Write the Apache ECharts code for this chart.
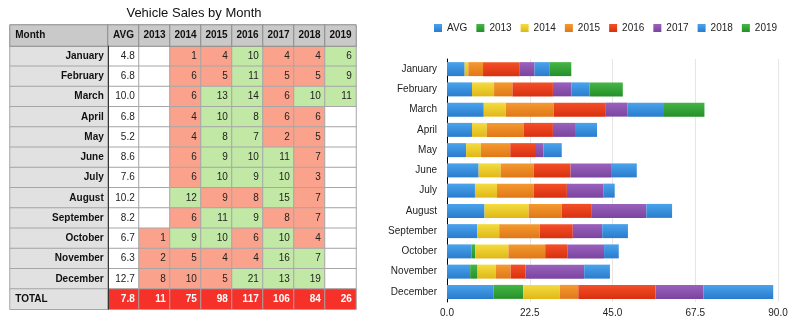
<!DOCTYPE html>
<html><head><meta charset="utf-8">
<script src="https://cdn.jsdelivr.net/npm/echarts@6/dist/echarts.min.js"></script>
<style>html,body{margin:0;padding:0;background:#fff}#c{width:796px;height:323px}</style>
</head><body><div id="c"></div>
<script>
const title = 'Vehicle Sales by Month';
const months = ['January','February','March','April','May','June','July','August','September','October','November','December'];
const seriesNames = ['AVG','2013','2014','2015','2016','2017','2018','2019'];
const avg   = [4.8, 6.8, 10.0, 6.8, 5.2, 8.6, 7.6, 10.2, 8.2, 6.7, 6.3, 12.7];
const s2013 = [null,null,null,null,null,null,null,null,null,1,2,8];
const s2014 = [1,6,6,4,4,6,6,12,6,9,5,10];
const s2015 = [4,5,13,10,8,9,10,9,11,10,4,5];
const s2016 = [10,11,14,8,7,10,9,8,9,6,4,21];
const s2017 = [4,5,6,6,2,11,10,15,8,10,16,13];
const s2018 = [4,5,10,6,5,7,3,7,7,4,7,19];
const s2019 = [6,9,11,null,null,null,null,null,null,null,null,null];
const totals = ['7.8','11','75','98','117','106','84','26'];
const xTicks = [0, 22.5, 45, 67.5, 90];

const cols = [avg, s2013, s2014, s2015, s2016, s2017, s2018, s2019];
const FONT = '"Liberation Sans", Arial, Helvetica, sans-serif';
const HEAD = '#c9c9c9', LBG = '#e1e1e1', GREEN = '#c2e8a6', SALMON = '#fba28c', RED = '#f5312a', BORDER = '#a6a6a6';

// ---- table data ----
const headLabel = [{value:[0,0,0], txt:'Month', itemStyle:{color:HEAD}, label:{position:'insideLeft', distance:6}}];
const headData = seriesNames.map((n,c)=>({value:[c,0,0], txt:n, itemStyle:{color:HEAD}, label:{position:'inside'}}));
const bodyLabel = months.concat(['TOTAL']).map((m,r)=>({
  value:[0,r,0], txt:m, itemStyle:{color:LBG},
  label: r===12 ? {position:'insideLeft', distance:6} : {position:'insideRight', distance:5}
}));
const bodyData = [];
cols.forEach((arr,c)=>{
  arr.forEach((v,r)=>{
    const txt = v==null ? '' : (c===0 ? v.toFixed(1) : String(v));
    const color = (c===0 || v==null) ? '#ffffff' : (v >= avg[r] ? GREEN : SALMON);
    bodyData.push({value:[c,r,v==null?0:v], txt, itemStyle:{color}, label:{position:'insideRight', distance:5, color:'#222', fontWeight:'normal'}});
  });
  bodyData.push({value:[c,12,0], txt:totals[c], itemStyle:{color:RED}, label:{position:'insideRight', distance:5, color:'#fff', fontWeight:'bold'}});
});

const hidCat = (data, grid, extra) => Object.assign({type:'category', data, gridIndex:grid, show:false}, extra||{});

// ---- bar chart ----
const barColors = [
  ['#4aa3ec','#2a7ccc'], ['#46b646','#25902a'], ['#f4dc40','#e0b818'], ['#f49a30','#e07818'],
  ['#f45028','#d83010'], ['#9a62bc','#7a44a0'], ['#4aa3ec','#2a7ccc'], ['#46b646','#25902a']
];
const barSeries = cols.map((arr,i)=>({
  name: seriesNames[i], type:'bar', stack:'total', xAxisIndex:4, yAxisIndex:4,
  barWidth:14,
  itemStyle:{color: new echarts.graphic.LinearGradient(0,0,0,1,[{offset:0,color:barColors[i][0]},{offset:1,color:barColors[i][1]}])},
  data: arr.map(v=> v==null ? 0 : v)
}));

const labelBase = {show:true, fontFamily:FONT, fontSize:10, color:'#111', formatter:p=>p.data.txt};
const cellStyle = {borderColor:BORDER, borderWidth:1};

const option = {
  animation:false,
  title:{text:title, left:189, top:2, textAlign:'center', textStyle:{fontFamily:FONT, fontSize:13, fontWeight:'normal', color:'#111'}},
  legend:{
    data: seriesNames, left:429, top:18, itemWidth:8, itemHeight:8, itemGap:9,
    icon:'rect', textStyle:{fontFamily:FONT, fontSize:10, color:'#222'}
  },
  grid:[
    {left:10, top:25, width:98, height:21},
    {left:108, top:25, width:248, height:21},
    {left:10, top:46, width:98, height:263.25},
    {left:108, top:46, width:248, height:263.25},
    {left:447, top:59, right:18, bottom:21}
  ],
  xAxis:[
    hidCat(['Month'],0), hidCat(seriesNames,1), hidCat(['Month'],2),
    hidCat(seriesNames,3),
    {type:'value', gridIndex:4, min:xTicks[0], max:xTicks[xTicks.length-1], interval:xTicks[1]-xTicks[0],
     axisLine:{show:false}, axisTick:{show:false},
     splitLine:{lineStyle:{color:'#e6e6e6'}},
     axisLabel:{fontFamily:FONT, fontSize:10, color:'#222', margin:6, formatter:v=>v.toFixed(1)}}
  ],
  yAxis:[
    hidCat(['h'],0,{inverse:true}), hidCat(['h'],1,{inverse:true}),
    hidCat(months.concat(['TOTAL']),2,{inverse:true}),
    {type:'category', data:months.concat(['TOTAL']), gridIndex:3, inverse:true, show:true, z:10,
     axisLine:{show:true, lineStyle:{color:'#333', width:1}}, axisTick:{show:false}, axisLabel:{show:false}},
    {type:'category', data:months, gridIndex:4, inverse:true,
     axisLine:{show:true, lineStyle:{color:'#000'}}, axisTick:{show:false},
     axisLabel:{fontFamily:FONT, fontSize:10, color:'#222', margin:10}}
  ],
  series:[
    {type:'heatmap', xAxisIndex:2, yAxisIndex:2, data:bodyLabel, itemStyle:cellStyle, label:Object.assign({}, labelBase, {fontWeight:'bold'}), emphasis:{disabled:true}},
    {type:'heatmap', xAxisIndex:3, yAxisIndex:3, data:bodyData, itemStyle:cellStyle, label:labelBase, emphasis:{disabled:true}},
    {type:'heatmap', xAxisIndex:0, yAxisIndex:0, data:headLabel, itemStyle:{borderColor:'#8a8a8a', borderWidth:1}, label:Object.assign({}, labelBase, {fontWeight:'bold'}), emphasis:{disabled:true}},
    {type:'heatmap', xAxisIndex:1, yAxisIndex:1, data:headData, itemStyle:{borderColor:'#8a8a8a', borderWidth:1}, label:Object.assign({}, labelBase, {fontWeight:'bold'}), emphasis:{disabled:true}}
  ].concat(barSeries)
};
const chart = echarts.init(document.getElementById('c'));
chart.setOption(option);
</script></body></html>
